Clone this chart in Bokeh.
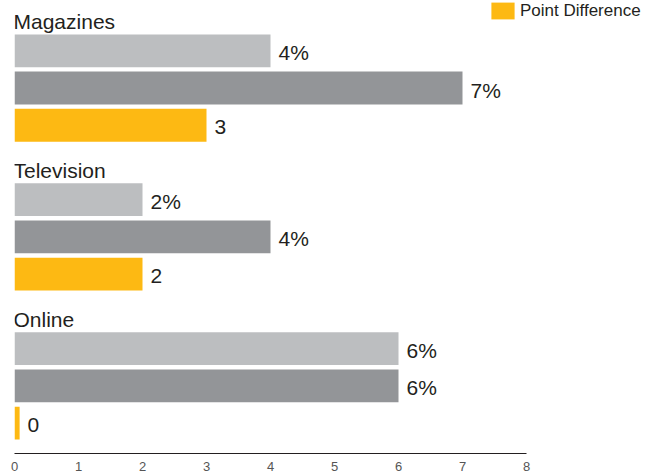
import numpy as np
from bokeh.plotting import figure
from bokeh.models import ColumnDataSource, Range1d, FixedTicker, Legend, LegendItem
from bokeh.core.properties import value
from bokeh.embed import file_html
from bokeh.resources import INLINE

# ---- data ----
categories = ["Magazines", "Television", "Online"]
series_a = [4, 2, 6]          # light grey bars (%)
series_b = [7, 4, 6]          # dark grey bars (%)
point_diff = [3, 2, 0]        # point difference
x_ticks = [0, 1, 2, 3, 4, 5, 6, 7, 8]
legend_label = "Point Difference"

# ---- styles ----
LIGHT = "#BCBEC0"
DARK = "#939598"
GOLD = "#FDB913"
TEXT = "#231F20"
FONT = "Liberation Sans"
MIN_STUB = 0.08   # minimum visible bar stub for zero values
BAR_H = 0.88
FRAME_H = 455

n = len(categories)
group_rows = np.arange(n) * 4  # label row of each group
rows_a = group_rows + 1
rows_b = group_rows + 2
rows_d = group_rows + 3

p = figure(width=655, height=473, output_backend="svg", toolbar_location=None,
           x_range=Range1d(0, 641 / 64),
           y_range=Range1d(1 + (FRAME_H - 50.5) / 37.4, -0.350),
           min_border_left=14, min_border_right=0, min_border_top=0, min_border_bottom=0,
           outline_line_color=None)
p.background_fill_color = "white"
p.border_fill_color = "white"
p.grid.visible = False
p.yaxis.visible = False

src_a = ColumnDataSource(dict(y=rows_a, v=series_a, lab=[f"{v}%" for v in series_a]))
src_b = ColumnDataSource(dict(y=rows_b, v=series_b, lab=[f"{v}%" for v in series_b]))
src_d = ColumnDataSource(dict(y=rows_d, v=point_diff,
                              vd=np.maximum(np.array(point_diff, dtype=float), MIN_STUB),
                              lab=[str(v) for v in point_diff]))

p.hbar(y="y", left=0, right="v", height=BAR_H, source=src_a, fill_color=LIGHT, line_color=None)
p.hbar(y="y", left=0, right="v", height=BAR_H, source=src_b, fill_color=DARK, line_color=None)
rd = p.hbar(y="y", left=0, right="vd", height=BAR_H, source=src_d, fill_color=GOLD, line_color=None)

for src, xcol in ((src_a, "v"), (src_b, "v"), (src_d, "vd")):
    p.text(x=xcol, y="y", text="lab", source=src, x_offset=8, y_offset=2,
           text_font=value(FONT), text_font_size="21px", text_color=TEXT,
           text_baseline="middle", text_align="left")

src_c = ColumnDataSource(dict(x=[0] * n, y=rows_a, t=categories))
p.text(x="x", y="y", text="t", source=src_c, x_offset=-1, y_offset=-29,
       text_font=value(FONT), text_font_size="21px", text_color=TEXT,
       text_baseline="alphabetic", text_align="left")

ax = p.xaxis[0]
ax.ticker = FixedTicker(ticks=x_ticks)
ax.bounds = (0, 8)
ax.axis_line_color = "#231F20"
ax.axis_line_width = 1
ax.major_tick_line_color = None
ax.minor_tick_line_color = None
ax.major_label_standoff = 2
ax.major_label_text_font = FONT
ax.major_label_text_font_size = "13px"
ax.major_label_text_color = "#555555"

legend = Legend(items=[LegendItem(label=legend_label, renderers=[rd])],
                location=(474, FRAME_H - 23), margin=0, padding=0, border_line_color=None,
                background_fill_alpha=0, glyph_width=29, glyph_height=21,
                label_standoff=3, label_text_font=FONT, label_text_font_size="17px",
                label_text_color=TEXT, label_height=21)
legend.label_text_baseline = "middle"
p.add_layout(legend)

open("out.html", "w").write(file_html(p, INLINE))
